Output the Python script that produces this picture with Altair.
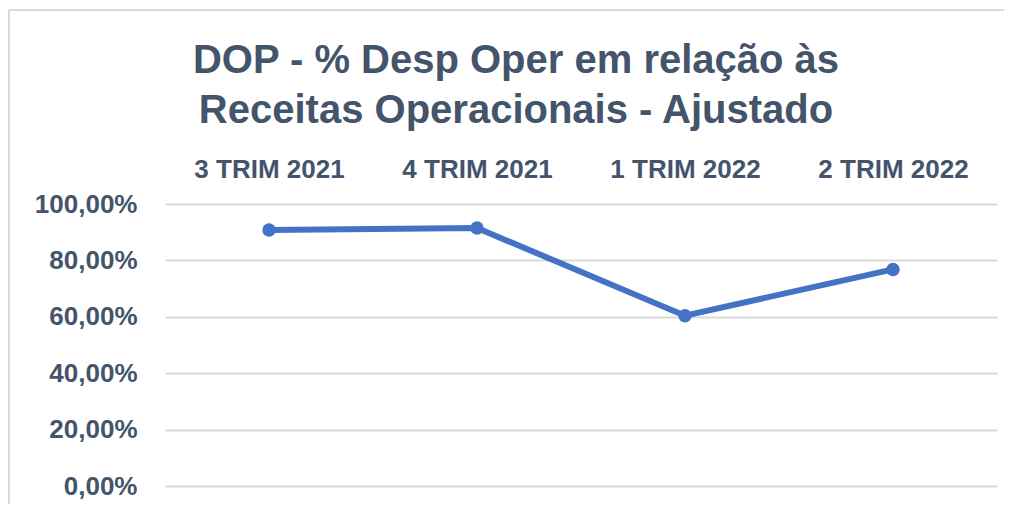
import altair as alt
import pandas as pd

categories = ["3 TRIM 2021", "4 TRIM 2021", "1 TRIM 2022", "2 TRIM 2022"]
values = [90.8, 91.5, 60.4, 76.8]
y_ticks = [0, 20, 40, 60, 80, 100]

df = pd.DataFrame({"trim": categories, "pct": values})

TEXT = "#44546A"
FONT = "Liberation Sans"

line = alt.Chart(df).mark_line(
    color="#4472C4", strokeWidth=6,
    point=alt.OverlayMarkDef(size=180, filled=True, color="#4472C4", opacity=1),
).encode(
    x=alt.X("trim:N", sort=categories, title=None,
            scale=alt.Scale(paddingInner=0, paddingOuter=0.5),
            axis=alt.Axis(orient="top", ticks=False, domain=False, labelAngle=0, grid=False,
                          labelFont=FONT, labelFontSize=26, labelFontWeight="bold",
                          labelColor=TEXT, labelPadding=22)),
    y=alt.Y("pct:Q", title=None,
            scale=alt.Scale(domain=[0, 100], nice=False),
            axis=alt.Axis(values=y_ticks, ticks=False, domain=False,
                          labelExpr="replace(format(datum.value, '.2f'), '.', ',') + '%'",
                          labelFont=FONT, labelFontSize=26, labelFontWeight="bold",
                          labelColor=TEXT, labelPadding=28,
                          grid=True, gridColor="#d9d9d9", gridWidth=2)),
)

frame_src = alt.Data(values=[{}])
left_edge = alt.Chart(frame_src).mark_rule(color="#d9d9d9", strokeWidth=2).encode(
    x=alt.value(-156), y=alt.value(-194), y2=alt.value(320),
)
top_edge = alt.Chart(frame_src).mark_rule(color="#d9d9d9", strokeWidth=2).encode(
    x=alt.value(-156), x2=alt.value(1200), y=alt.value(-194),
)

chart = alt.layer(left_edge, top_edge, line).properties(
    width=832, height=282,
    background="white",
    padding={"left": 157, "top": 196, "right": 7, "bottom": 18},
    autosize=alt.AutoSizeParams(type="none"),
    title=alt.TitleParams(
        ["DOP - % Desp Oper em relação às", "Receitas Operacionais - Ajustado"],
        font=FONT, fontSize=40, fontWeight="bold", color=TEXT,
        lineHeight=50, anchor="middle", dx=-65, offset=0, dy=122,
    ),
).configure_view(strokeWidth=0)

chart.save("out.html", embed_options={"renderer": "svg", "actions": False})
